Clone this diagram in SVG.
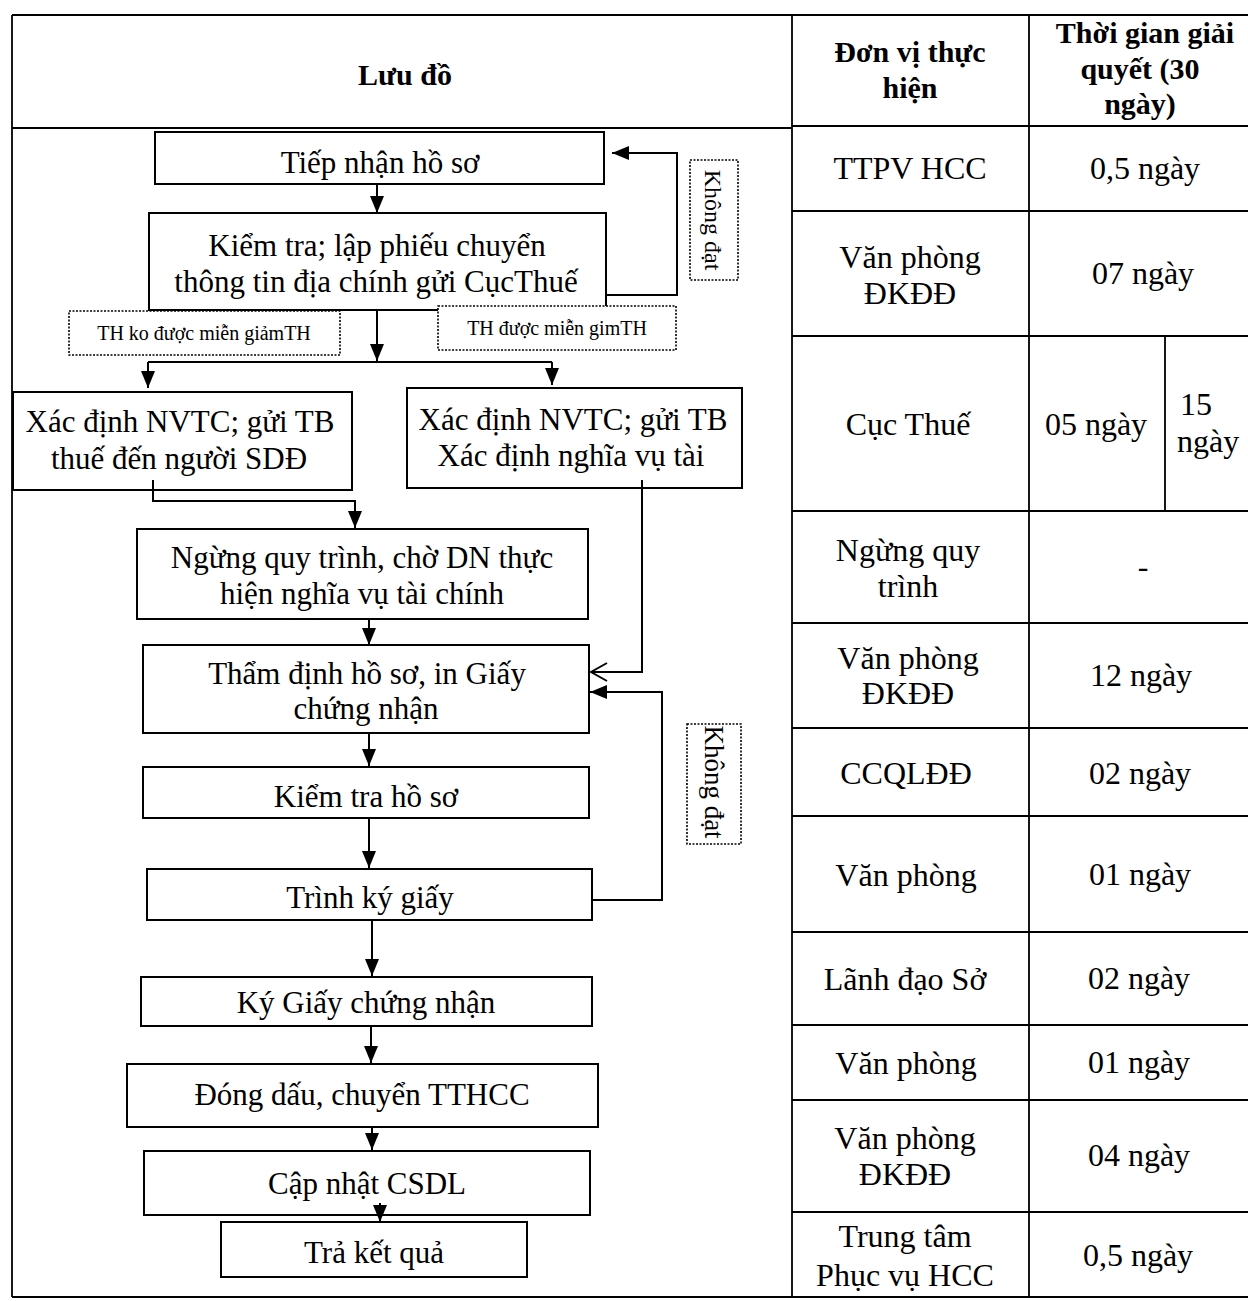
<svg xmlns="http://www.w3.org/2000/svg" width="1248" height="1301" viewBox="0 0 1248 1301">
<style>
text{font-family:"Liberation Serif","Times New Roman",serif;fill:#000;text-anchor:middle}
.t{font-size:31px}
.c{font-size:32px}
.h{font-size:30px;font-weight:bold}
.s{font-size:20px}
.k{font-size:24px}
.box{fill:#fff;stroke:#000;stroke-width:2}
.dot{fill:#fff;stroke:#000;stroke-width:1.6;stroke-dasharray:2 1.5}
.grid{stroke:#000;stroke-width:1.8;fill:none}
.ln{stroke:#000;stroke-width:2;fill:none}
</style>
<defs>
<marker id="ah" markerUnits="userSpaceOnUse" markerWidth="18" markerHeight="16" viewBox="0 -8 18 16" refX="17" refY="0" orient="auto">
<path d="M0,-7 L17,0 L0,7 z" fill="#000"/>
</marker>
<marker id="ao" markerUnits="userSpaceOnUse" markerWidth="20" markerHeight="22" viewBox="0 -11 20 22" refX="18" refY="0" orient="auto">
<path d="M2,-9 L18,0 L2,9" fill="none" stroke="#000" stroke-width="2"/>
</marker>
</defs>
<rect width="1248" height="1301" fill="#fff"/>
<g id="table">
<path class="grid" d="M12,15 H1248 M12,15 V1297 M12,1297 H1248 M12,128 H791 M792,15 V1297 M1029,15 V1297 M792,126 H1248 M792,211 H1248 M792,336 H1248 M792,511 H1248 M792,623 H1248 M792,728 H1248 M792,816 H1248 M792,932 H1248 M792,1025 H1248 M792,1100 H1248 M792,1212 H1248 M1165,336 V511"/>
<text class="h" x="405" y="85">Lưu đồ</text>
<text class="h" x="910" y="62">Đơn vị thực</text>
<text class="h" x="910" y="98">hiện</text>
<text class="h" x="1145" y="43">Thời gian giải</text>
<text class="h" x="1140" y="79">quyết (30</text>
<text class="h" x="1140" y="114">ngày)</text>
<text class="c" x="910" y="179">TTPV HCC</text>
<text class="c" x="1145" y="179">0,5 ngày</text>
<text class="c" x="910" y="268">Văn phòng</text>
<text class="c" x="910" y="304">ĐKĐĐ</text>
<text class="c" x="1143" y="284">07 ngày</text>
<text class="c" x="908" y="435">Cục Thuế</text>
<text class="c" x="1096" y="435">05 ngày</text>
<text class="c" x="1180" y="415" style="text-anchor:start">15</text>
<text class="c" x="1177" y="452" style="text-anchor:start">ngày</text>
<text class="c" x="908" y="561">Ngừng quy</text>
<text class="c" x="908" y="597">trình</text>
<text class="c" x="1143" y="577">-</text>
<text class="c" x="908" y="669">Văn phòng</text>
<text class="c" x="908" y="704">ĐKĐĐ</text>
<text class="c" x="1141" y="686">12 ngày</text>
<text class="c" x="906" y="784">CCQLĐĐ</text>
<text class="c" x="1140" y="784">02 ngày</text>
<text class="c" x="906" y="886">Văn phòng</text>
<text class="c" x="1140" y="885">01 ngày</text>
<text class="c" x="905" y="990">Lãnh đạo Sở</text>
<text class="c" x="1139" y="989">02 ngày</text>
<text class="c" x="906" y="1074">Văn phòng</text>
<text class="c" x="1139" y="1073">01 ngày</text>
<text class="c" x="905" y="1149">Văn phòng</text>
<text class="c" x="905" y="1185">ĐKĐĐ</text>
<text class="c" x="1139" y="1166">04 ngày</text>
<text class="c" x="905" y="1247">Trung tâm</text>
<text class="c" x="905" y="1286">Phục vụ HCC</text>
<text class="c" x="1138" y="1266">0,5 ngày</text>
</g>
<g id="n1"><rect class="box" x="155" y="132" width="449" height="52"/><text class="t" x="380" y="173">Tiếp nhận hồ sơ</text></g>
<g id="n2"><rect class="box" x="149" y="213" width="457" height="97"/><text class="t" x="377" y="256">Kiểm tra; lập phiếu chuyển</text><text class="t" x="376" y="292">thông tin địa chính gửi CụcThuế</text></g>
<g id="l1"><rect class="dot" x="69" y="311" width="271" height="44"/><text class="s" x="204" y="340">TH ko được miễn giảmTH</text></g>
<g id="l2"><rect class="dot" x="438" y="306" width="238" height="44"/><text class="s" x="557" y="335">TH được miễn gimTH</text></g>
<g id="l3"><rect class="dot" x="690" y="160" width="48" height="120"/><text class="k" transform="translate(705,220) rotate(90)">Không đạt</text></g>
<g id="n3"><rect class="box" x="13" y="392" width="339" height="98"/><text class="t" x="180" y="432">Xác định NVTC; gửi TB</text><text class="t" x="179" y="469">thuế đến người SDĐ</text></g>
<g id="n4"><rect class="box" x="407" y="388" width="335" height="100"/><text class="t" x="573" y="430">Xác định NVTC; gửi TB</text><text class="t" x="571" y="466">Xác định nghĩa vụ tài</text></g>
<g id="n5"><rect class="box" x="137" y="529" width="451" height="90"/><text class="t" x="362" y="568">Ngừng quy trình, chờ DN thực</text><text class="t" x="362" y="604">hiện nghĩa vụ tài chính</text></g>
<g id="n6"><rect class="box" x="143" y="645" width="446" height="88"/><text class="t" x="367" y="684">Thẩm định hồ sơ, in Giấy</text><text class="t" x="366" y="719">chứng nhận</text></g>
<g id="n7"><rect class="box" x="143" y="767" width="446" height="51"/><text class="t" x="366" y="807">Kiểm tra hồ sơ</text></g>
<g id="l4"><rect class="dot" x="687" y="724" width="54" height="120"/><text class="k" style="font-size:27px" transform="translate(705,782) rotate(90)">Không đạt</text></g>
<g id="n8"><rect class="box" x="147" y="869" width="445" height="51"/><text class="t" x="370" y="908">Trình ký giấy</text></g>
<g id="n9"><rect class="box" x="141" y="977" width="451" height="49"/><text class="t" x="366" y="1013">Ký Giấy chứng nhận</text></g>
<g id="n10"><rect class="box" x="127" y="1064" width="471" height="63"/><text class="t" x="362" y="1105">Đóng dấu, chuyển TTHCC</text></g>
<g id="n11"><rect class="box" x="144" y="1151" width="446" height="64"/><text class="t" x="367" y="1194">Cập nhật CSDL</text></g>
<g id="n12"><rect class="box" x="221" y="1222" width="306" height="55"/><text class="t" x="374" y="1263">Trả kết quả</text></g>
<g id="connectors">
<path class="ln" d="M377,184 V213" marker-end="url(#ah)"/>
<path class="ln" d="M377,310 V361" marker-end="url(#ah)"/>
<path class="ln" d="M148,362 H552"/>
<path class="ln" d="M148,362 V388" marker-end="url(#ah)"/>
<path class="ln" d="M552,362 V385" marker-end="url(#ah)"/>
<path class="ln" d="M606,295 H677 V153 H612" marker-end="url(#ah)"/>
<path class="ln" d="M153,480 V501 H355 V528" marker-end="url(#ah)"/>
<path class="ln" d="M642,480 V672 H591" marker-end="url(#ao)"/>
<path class="ln" d="M369,619 V645" marker-end="url(#ah)"/>
<path class="ln" d="M369,733 V766" marker-end="url(#ah)"/>
<path class="ln" d="M369,818 V868" marker-end="url(#ah)"/>
<path class="ln" d="M592,900 H662 V692 H590" marker-end="url(#ah)"/>
<path class="ln" d="M372,920 V976" marker-end="url(#ah)"/>
<path class="ln" d="M371,1026 V1063" marker-end="url(#ah)"/>
<path class="ln" d="M372,1127 V1150" marker-end="url(#ah)"/>
<path class="ln" d="M380,1203 V1222" marker-end="url(#ah)"/>
</g>
</svg>
